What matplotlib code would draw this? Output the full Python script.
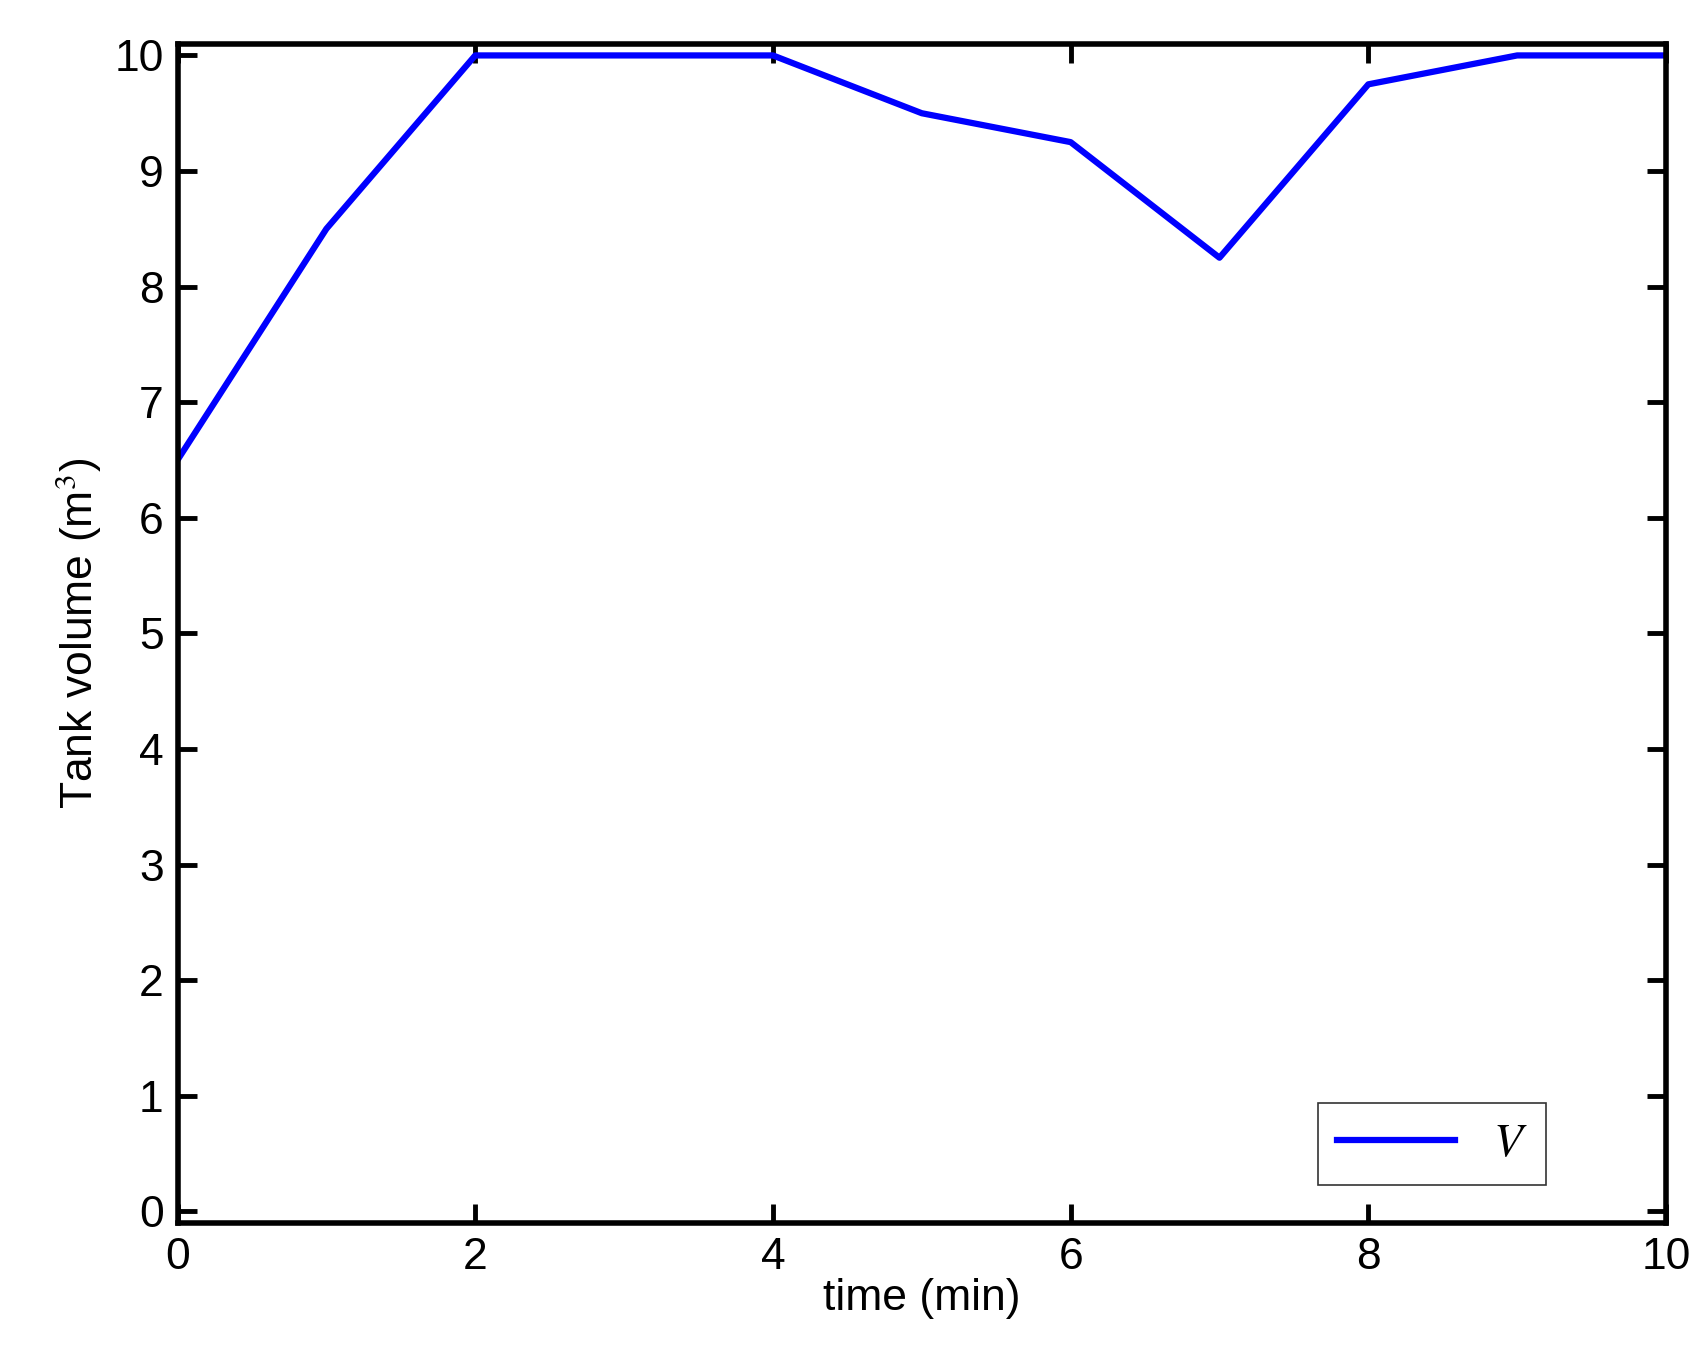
import matplotlib
matplotlib.use('Agg')
import matplotlib.pyplot as plt

# tank volume over time
timeMin = [0, 1, 2, 3, 4, 5, 6, 7, 8, 9, 10]
volume = [6.5, 8.5, 10, 10, 10, 9.5, 9.25, 8.25, 9.75, 10, 10]
xTicks = [0, 2, 4, 6, 8, 10]
yTicks = [0, 1, 2, 3, 4, 5, 6, 7, 8, 9, 10]

plt.rcParams['font.family'] = ['Liberation Sans', 'DejaVu Sans']
plt.rcParams['mathtext.fontset'] = 'stix'

fig = plt.figure(figsize=(17.07, 13.71), dpi=100)
ax = fig.add_axes([0.104, 0.108, 0.872, 0.860])
ax.plot(timeMin, volume, color='#0000ff', linewidth=4.5, label='$V$')
ax.set_xlim(0, 10)
ax.set_ylim(-0.1, 10.1)
ax.set_xticks(xTicks)
ax.set_yticks(yTicks)
ax.tick_params(direction='in', length=14, width=3.5, labelsize=32,
               top=True, right=True, pad=10)
for s in ax.spines.values():
    s.set_linewidth(4)
ax.set_xlabel('time (min)', fontsize=32, labelpad=0)
ax.set_ylabel('Tank volume (m$^3$)', fontsize=32, labelpad=8)
leg = ax.legend(loc='lower right', fontsize=34, fancybox=False,
                edgecolor='black', handlelength=2.5, borderaxespad=0.8,
                bbox_to_anchor=(0.945, 0.0))
leg.get_frame().set_linewidth(1.2)
fig.savefig('out.png')
